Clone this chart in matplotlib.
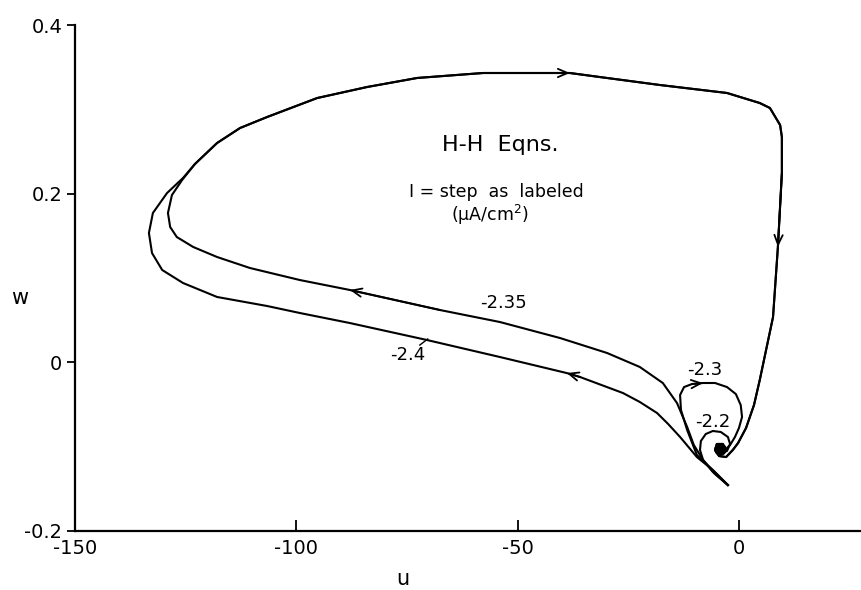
import matplotlib
matplotlib.use("Agg")
import matplotlib.pyplot as plt

plt.rcParams['font.family'] = ['DejaVu Sans']
plt.rcParams['axes.unicode_minus'] = False

# trajectory I = -2.35, from the start point up to where it joins the shared loop
u_235 = [-2.5, -5.4, -8.1, -10.2, -11.7, -14.0, -17.2, -22.4, -29.8, -40.4, -54.0,
         -67.5, -87.9, -99.2, -110.5, -117.9, -123.3, -127.0, -128.5, -129.0,
         -128.1, -125.8]
w_235 = [-0.1455, -0.1324, -0.1158, -0.098, -0.0767, -0.0482, -0.0245, -0.0055,
         0.0111, 0.0288, 0.0478, 0.062, 0.0858, 0.0976, 0.1119, 0.1249, 0.1368,
         0.1486, 0.1605, 0.1771, 0.1984, 0.2162]

# trajectory I = -2.4
u_24 = [-2.5, -5.9, -9.5, -13.3, -16.0, -18.5, -22.4, -26.2, -35.9, -38.9, -54.0,
        -70.5, -87.9, -99.2, -106.6, -117.9, -125.6, -130.3, -132.6, -133.3,
        -132.4, -129.2, -125.6]
w_24 = [-0.1455, -0.1277, -0.1123, -0.0885, -0.0731, -0.0601, -0.047, -0.0364,
        -0.0174, -0.0127, 0.0063, 0.0265, 0.0466, 0.0585, 0.0668, 0.0775, 0.0941,
        0.1095, 0.1296, 0.1534, 0.1771, 0.2008, 0.2186]

# shared upper / right part of the big loop, ending in the spiral at rest
u_loop = [-122.9, -117.9, -112.7, -106.6, -95.3, -84.0, -72.7, -57.8, -46.5, -38.2,
          -31.4, -17.9, -2.7, 4.7, 7.0, 9.3, 9.7, 9.7, 8.8, 7.7, 4.7, 3.4, 1.6,
          -0.2, -1.4, -2.9, -4.5, -5.4, -5.0, -3.6, -3.4, -4.3]
w_loop = [0.2352, 0.2601, 0.2779, 0.2909, 0.3134, 0.3265, 0.3372, 0.3431, 0.3431,
          0.3431, 0.3383, 0.3289, 0.3194, 0.3075, 0.3016, 0.2814, 0.2672, 0.2245,
          0.1368, 0.0537, -0.021, -0.0506, -0.0779, -0.0957, -0.104, -0.1123,
          -0.1111, -0.104, -0.0968, -0.0968, -0.1028, -0.104]

# small loop I = -2.3
u_23 = [-2.5, -5.9, -9.5, -11.7, -13.1, -13.3, -12.4, -10.6, -8.1, -5.4, -2.7,
        -0.7, 0.4, 0.7, 0.0, -0.9, -2.0, -3.4, -4.3]
w_23 = [-0.1455, -0.1277, -0.1099, -0.0803, -0.0565, -0.0387, -0.0293, -0.0257,
        -0.0245, -0.0245, -0.0293, -0.0376, -0.0506, -0.0648, -0.0779, -0.0885,
        -0.098, -0.1051, -0.104]

# smallest loop I = -2.2
u_22 = [-2.5, -5.9, -8.1, -8.8, -8.6, -7.5, -5.9, -4.1, -2.5, -2.0, -2.7, -3.8, -4.7]
w_22 = [-0.1455, -0.130, -0.1158, -0.104, -0.0933, -0.085, -0.0814, -0.0826,
        -0.0885, -0.0968, -0.1051, -0.1075, -0.104]

rest_u, rest_w = -4.3, -0.103

curve_labels = ["-2.35", "-2.4", "-2.3", "-2.2"]
label_u = [-53.3, -74.8, -7.7, -5.9]
label_w = [0.0703, 0.0087, -0.0091, -0.0708]

x_ticks = [-150, -100, -50, 0]
y_ticks = [-0.2, 0, 0.2, 0.4]
y_tick_labels = ["-0.2", "0", "0.2", "0.4"]

fig = plt.figure(figsize=(8.62, 5.9), dpi=100)
ax = fig.add_axes([0.087, 0.1, 0.913, 0.8576])

lw = 1.5
ax.plot(u_235 + u_loop, w_235 + w_loop, color='black', lw=lw)
ax.plot(u_24 + u_loop, w_24 + w_loop, color='black', lw=lw)
ax.plot(u_23, w_23, color='black', lw=lw)
ax.plot(u_22, w_22, color='black', lw=lw)
ax.plot([rest_u], [rest_w], 'o', color='black', markersize=8)


def arrow(us, ws, i):
    ax.annotate('', xy=(us[i], ws[i]), xytext=(us[i - 1], ws[i - 1]),
                arrowprops=dict(arrowstyle='->,head_length=0.7,head_width=0.3',
                                color='black', lw=1.3, shrinkA=0, shrinkB=0))


arrow(u_235, w_235, 12)
arrow(u_24, w_24, 9)
arrow(u_loop, w_loop, 9)
arrow(u_loop, w_loop, 18)
arrow(u_23, w_23, 8)

for txt, lu, lv in zip(curve_labels, label_u, label_w):
    ax.text(lu, lv, txt, fontsize=13, ha='center', va='center')
# little pointer from the -2.4 label to its curve
ax.plot([-72.1, -70.3], [0.0205, 0.0277], color='black', lw=1)

ax.text(-54.0, 0.2577, "H-H  Eqns.", fontsize=16, ha='center', va='center')
ax.text(-54.7, 0.202, "I = step  as  labeled", fontsize=12.5, ha='center', va='center')
ax.text(-56.3, 0.1747, "(μA/cm$^2$)", fontsize=12.5, ha='center', va='center')

ax.set_xlim(-150, 27.8)
ax.set_ylim(-0.2, 0.4)
ax.spines['top'].set_visible(False)
ax.spines['right'].set_visible(False)
ax.spines['left'].set_linewidth(1.6)
ax.spines['bottom'].set_linewidth(1.6)

ax.set_xticks(x_ticks)
ax.set_xticklabels([str(t) for t in x_ticks])
ax.set_yticks(y_ticks)
ax.set_yticklabels(y_tick_labels)
ax.tick_params(axis='x', direction='in', length=8, width=1.3, labelsize=14, pad=6)
ax.tick_params(axis='y', direction='out', length=6, width=1.3, labelsize=14, pad=3)

ax.set_xlabel("u", fontsize=15)
ax.xaxis.set_label_coords(0.417, -0.075)
ax.set_ylabel("w", fontsize=15, rotation=0)
ax.yaxis.set_label_coords(-0.07, 0.44)

fig.savefig("out.png", dpi=100)
